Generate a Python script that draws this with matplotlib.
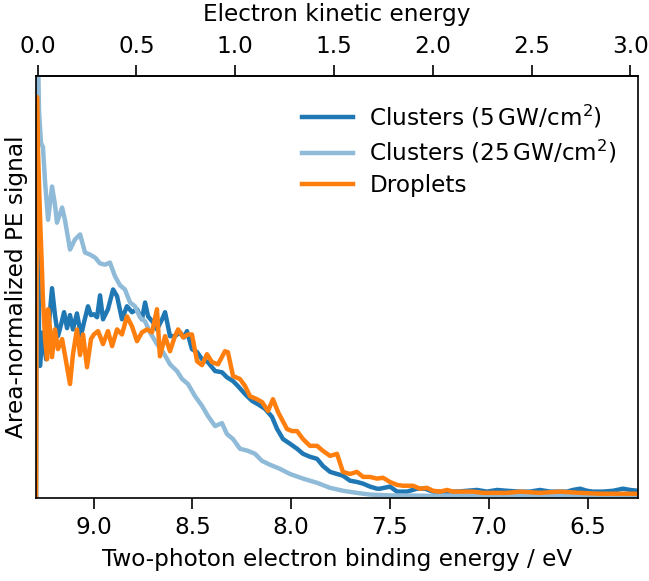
import matplotlib
matplotlib.use("Agg")
import matplotlib.pyplot as plt
import numpy as np

# binding energy (eV) and area-normalized signal
be_5gw = [9.291, 9.286, 9.276, 9.271, 9.256, 9.240, 9.225, 9.210, 9.195, 9.180,
          9.164, 9.149, 9.134, 9.119, 9.104, 9.084, 9.063, 9.048, 9.028, 9.013,
          8.998, 8.982, 8.967, 8.952, 8.927, 8.901, 8.881, 8.856, 8.831, 8.805,
          8.780, 8.755, 8.739, 8.724, 8.699, 8.679, 8.653, 8.638, 8.613, 8.588,
          8.562, 8.542, 8.527, 8.502, 8.476, 8.451, 8.421, 8.385, 8.350, 8.325,
          8.294, 8.269, 8.233, 8.198, 8.168, 8.132, 8.097, 8.071, 8.041, 8.006,
          7.970, 7.940, 7.905, 7.869, 7.839, 7.803, 7.768, 7.738, 7.702, 7.667,
          7.636, 7.601, 7.566, 7.550, 7.500, 7.464, 7.414, 7.363, 7.323, 7.282,
          7.232, 7.161, 7.110, 7.060, 7.009, 6.958, 6.908, 6.842, 6.791, 6.741,
          6.690, 6.640, 6.604, 6.574, 6.538, 6.503, 6.473, 6.422, 6.371, 6.321,
          6.285, 6.245]
sig_5gw = [0.0, 0.995, 0.397, 0.310, 0.390, 0.326, 0.414, 0.495, 0.431, 0.381,
           0.409, 0.438, 0.400, 0.431, 0.397, 0.435, 0.383, 0.414, 0.452, 0.431,
           0.433, 0.426, 0.478, 0.421, 0.445, 0.492, 0.476, 0.421, 0.452, 0.438,
           0.445, 0.421, 0.461, 0.428, 0.414, 0.397, 0.421, 0.438, 0.381, 0.381,
           0.390, 0.378, 0.393, 0.350, 0.343, 0.326, 0.319, 0.298, 0.295, 0.283,
           0.274, 0.262, 0.243, 0.227, 0.219, 0.208, 0.189, 0.160, 0.136, 0.125,
           0.113, 0.101, 0.094, 0.089, 0.072, 0.058, 0.053, 0.049, 0.037, 0.034,
           0.030, 0.023, 0.018, 0.018, 0.023, 0.011, 0.011, 0.018, 0.018, 0.011,
           0.011, 0.011, 0.013, 0.015, 0.011, 0.015, 0.013, 0.011, 0.011, 0.015,
           0.011, 0.011, 0.011, 0.015, 0.018, 0.013, 0.011, 0.011, 0.013, 0.018,
           0.015, 0.013]

be_25gw = [9.291, 9.283, 9.276, 9.266, 9.256, 9.245, 9.230, 9.210, 9.195, 9.185,
           9.159, 9.144, 9.119, 9.094, 9.068, 9.043, 9.018, 8.992, 8.967, 8.942,
           8.917, 8.891, 8.866, 8.841, 8.815, 8.790, 8.765, 8.739, 8.714, 8.679,
           8.648, 8.613, 8.578, 8.552, 8.522, 8.486, 8.451, 8.421, 8.385, 8.350,
           8.325, 8.294, 8.259, 8.218, 8.183, 8.147, 8.107, 8.056, 8.006, 7.940,
           7.869, 7.803, 7.737, 7.667, 7.601, 7.500, 7.300, 7.000, 6.700, 6.400,
           6.245]
sig_25gw = [0.0, 1.12, 0.919, 0.841, 0.831, 0.746, 0.658, 0.737, 0.694, 0.651,
            0.687, 0.656, 0.587, 0.611, 0.623, 0.580, 0.575, 0.568, 0.554, 0.551,
            0.556, 0.523, 0.502, 0.492, 0.461, 0.452, 0.426, 0.416, 0.390, 0.362,
            0.343, 0.314, 0.298, 0.279, 0.267, 0.238, 0.215, 0.191, 0.167, 0.174,
            0.148, 0.136, 0.113, 0.108, 0.101, 0.084, 0.075, 0.065, 0.053, 0.042,
            0.032, 0.020, 0.013, 0.008, 0.004, 0.002, 0.001, 0.002, 0.001, 0.002,
            0.001]

be_drop = [9.291, 9.286, 9.281, 9.271, 9.261, 9.256, 9.245, 9.235, 9.230, 9.220,
           9.210, 9.195, 9.180, 9.159, 9.139, 9.119, 9.104, 9.084, 9.068, 9.053,
           9.033, 9.013, 8.998, 8.977, 8.952, 8.927, 8.906, 8.881, 8.856, 8.831,
           8.805, 8.780, 8.755, 8.729, 8.704, 8.679, 8.664, 8.638, 8.613, 8.588,
           8.572, 8.547, 8.522, 8.502, 8.476, 8.451, 8.426, 8.400, 8.370, 8.335,
           8.320, 8.294, 8.259, 8.233, 8.208, 8.173, 8.147, 8.117, 8.092, 8.066,
           8.021, 7.995, 7.970, 7.940, 7.905, 7.869, 7.839, 7.803, 7.768, 7.738,
           7.702, 7.667, 7.636, 7.601, 7.566, 7.535, 7.500, 7.464, 7.434, 7.383,
           7.348, 7.313, 7.282, 7.247, 7.211, 7.181, 7.130, 7.080, 7.029, 6.978,
           6.908, 6.842, 6.741, 6.640, 6.538, 6.437, 6.245]
sig_drop = [0.0, 0.950, 0.824, 0.668, 0.542, 0.468, 0.374, 0.326, 0.445, 0.397,
            0.331, 0.397, 0.350, 0.374, 0.321, 0.267, 0.338, 0.397, 0.336, 0.385,
            0.307, 0.374, 0.385, 0.393, 0.362, 0.393, 0.357, 0.397, 0.385, 0.428,
            0.404, 0.369, 0.390, 0.397, 0.390, 0.445, 0.333, 0.381, 0.345, 0.381,
            0.397, 0.378, 0.385, 0.385, 0.321, 0.312, 0.338, 0.319, 0.314, 0.345,
            0.343, 0.286, 0.279, 0.262, 0.238, 0.231, 0.224, 0.203, 0.231, 0.200,
            0.160, 0.155, 0.155, 0.136, 0.120, 0.120, 0.108, 0.096, 0.101, 0.058,
            0.053, 0.058, 0.046, 0.046, 0.042, 0.044, 0.034, 0.027, 0.025, 0.025,
            0.018, 0.020, 0.013, 0.011, 0.015, 0.011, 0.011, 0.011, 0.008, 0.008,
            0.008, 0.011, 0.008, 0.011, 0.008, 0.006, 0.006]

labels = ['Clusters (5$\\,$GW/cm$^2$)', 'Clusters (25$\\,$GW/cm$^2$)', 'Droplets']

plt.rcParams['font.size'] = 16.7
plt.rcParams['axes.linewidth'] = 1.2

fig = plt.figure(figsize=(6.49, 5.81), dpi=100)
ax = fig.add_axes([0.0555, 0.1437, 0.9275, 0.7255])

ax.plot(be_5gw, sig_5gw, color='#1f77b4', lw=3.2, label=labels[0])
ax.plot(be_25gw, sig_25gw, color='#8fbbd9', lw=3.2, label=labels[1])
ax.plot(be_drop, sig_drop, color='#ff7f0e', lw=3.2, label=labels[2])

ax.set_xlim(9.291, 6.245)
ax.set_ylim(-0.003, 1.0)
ax.set_yticks([])
ax.set_xticks([9.0, 8.5, 8.0, 7.5, 7.0, 6.5])
ax.tick_params(axis='x', length=8, width=1.2, direction='out', pad=5)
ax.set_xlabel('Two-photon electron binding energy / eV', labelpad=7)
ax.set_ylabel('Area-normalized PE signal', labelpad=6)

top = ax.secondary_xaxis('top', functions=(lambda b: 9.283 - b, lambda k: 9.283 - k))
top.set_xticks([0.0, 0.5, 1.0, 1.5, 2.0, 2.5, 3.0])
top.tick_params(length=8, width=1.2, pad=5)
top.set_xlabel('Electron kinetic energy', labelpad=10)

ax.legend(loc='upper right', frameon=False, handlelength=2.2, handletextpad=0.7,
          labelspacing=0.35, bbox_to_anchor=(1.0, 0.985))

fig.savefig('out.png', dpi=100)
